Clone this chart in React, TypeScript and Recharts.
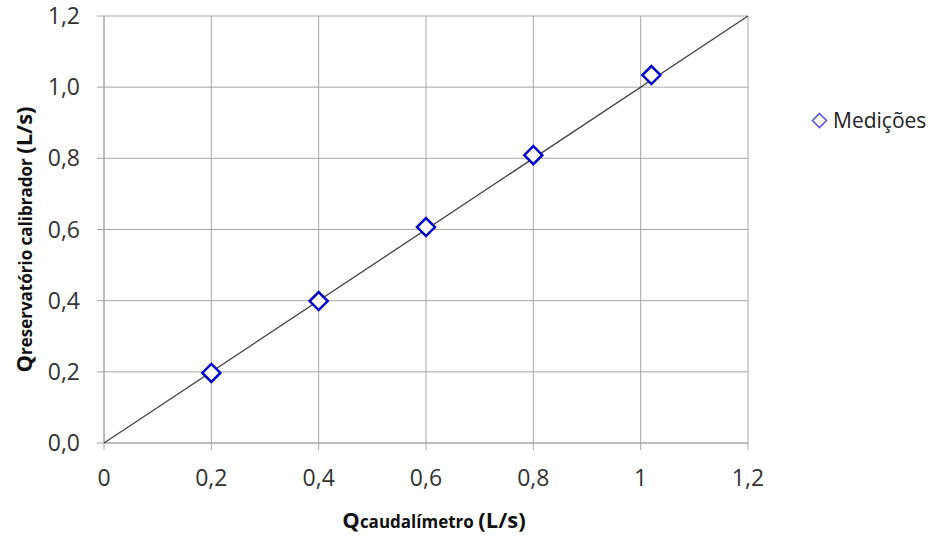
import React from "react";
import {
  ScatterChart,
  Scatter,
  XAxis,
  YAxis,
  CartesianGrid,
  Label,
} from "recharts";

// ── Data ────────────────────────────────────────────────

const MEAS_X = [0.2, 0.4, 0.6, 0.8, 1.02];
const MEAS_Y = [0.197, 0.399, 0.607, 0.809, 1.034];
const LINE_X = [0, 1.2];
const LINE_Y = [0, 1.2];
const TICKS = [0, 0.2, 0.4, 0.6, 0.8, 1, 1.2];

const measData = MEAS_X.map((x, i) => ({ x, y: MEAS_Y[i] }));
const lineData = LINE_X.map((x, i) => ({ x, y: LINE_Y[i] }));

// ── Styles ──────────────────────────────────────────────

const FONT = "'Open Sans', sans-serif";
const GRID = "#a6a6a6";
const TEXT = "#333";

if (typeof document !== "undefined") document.body.style.margin = "0";

const fmtX = (v: number) =>
  v === 0 || v === 1 ? String(v) : v.toFixed(1).replace(".", ",");
const fmtY = (v: number) => v.toFixed(1).replace(".", ",");

function Diamond(props: any) {
  const { cx, cy } = props;
  const r = 9;
  return (
    <polygon
      points={`${cx},${cy - r} ${cx + r},${cy} ${cx},${cy + r} ${cx - r},${cy}`}
      fill="#fff"
      stroke="#0000cc"
      strokeWidth={2.5}
    />
  );
}

function XTitle({ viewBox }: any) {
  const cx = viewBox.x + viewBox.width / 2 + 8;
  return (
    <text
      x={cx}
      y={528}
      textAnchor="middle"
      fontFamily={FONT}
      fontWeight={700}
      fill="#111"
    >
      <tspan fontSize={22}>Q</tspan>
      <tspan fontSize={17}>caudalímetro </tspan>
      <tspan fontSize={22}>(L/s)</tspan>
    </text>
  );
}

function YTitle({ viewBox }: any) {
  const cy = viewBox.y + viewBox.height / 2 + 10;
  return (
    <text
      x={32}
      y={cy}
      transform={`rotate(-90 32 ${cy})`}
      textAnchor="middle"
      fontFamily={FONT}
      fontWeight={700}
      fill="#111"
    >
      <tspan fontSize={22}>Q</tspan>
      <tspan fontSize={17}>reservatório calibrador </tspan>
      <tspan fontSize={22}>(L/s)</tspan>
    </text>
  );
}

export default function App() {
  return (
    <div style={{ position: "relative", width: 944, height: 538, background: "#fff" }}>
      <ScatterChart
        width={944}
        height={538}
        margin={{ top: 16, right: 196, bottom: 55, left: 44 }}
      >
        <CartesianGrid stroke={GRID} strokeWidth={1} />
        <XAxis
          type="number"
          dataKey="x"
          domain={[0, 1.2]}
          ticks={TICKS}
          tickFormatter={fmtX}
          stroke={GRID}
          tickSize={7}
          tickMargin={20}
          height={40}
          tick={{ fill: TEXT, fontSize: 23, fontFamily: FONT }}
          interval={0}
        >
          <Label content={<XTitle />} />
        </XAxis>
        <YAxis
          type="number"
          dataKey="y"
          domain={[0, 1.2]}
          ticks={TICKS}
          tickFormatter={fmtY}
          stroke={GRID}
          tickSize={7}
          tickMargin={17}
          width={60}
          tick={{ fill: TEXT, fontSize: 23, fontFamily: FONT }}
          interval={0}
        >
          <Label content={<YTitle />} />
        </YAxis>
        <Scatter
          data={lineData}
          line={{ stroke: "#404040", strokeWidth: 1.3 }}
          shape={() => null}
          isAnimationActive={false}
        />
        <Scatter data={measData} shape={<Diamond />} isAnimationActive={false} />
      </ScatterChart>
      <div
        style={{
          position: "absolute",
          left: 811,
          top: 106,
          display: "flex",
          alignItems: "center",
          fontFamily: FONT,
          fontSize: 21,
          color: "#222",
        }}
      >
        <svg width={17} height={17} style={{ marginRight: 5 }}>
          <polygon points="8.5,1.5 15.5,8.5 8.5,15.5 1.5,8.5" fill="#fff" stroke="#5a5ae6" strokeWidth={1.6} />
        </svg>
        Medições
      </div>
    </div>
  );
}
